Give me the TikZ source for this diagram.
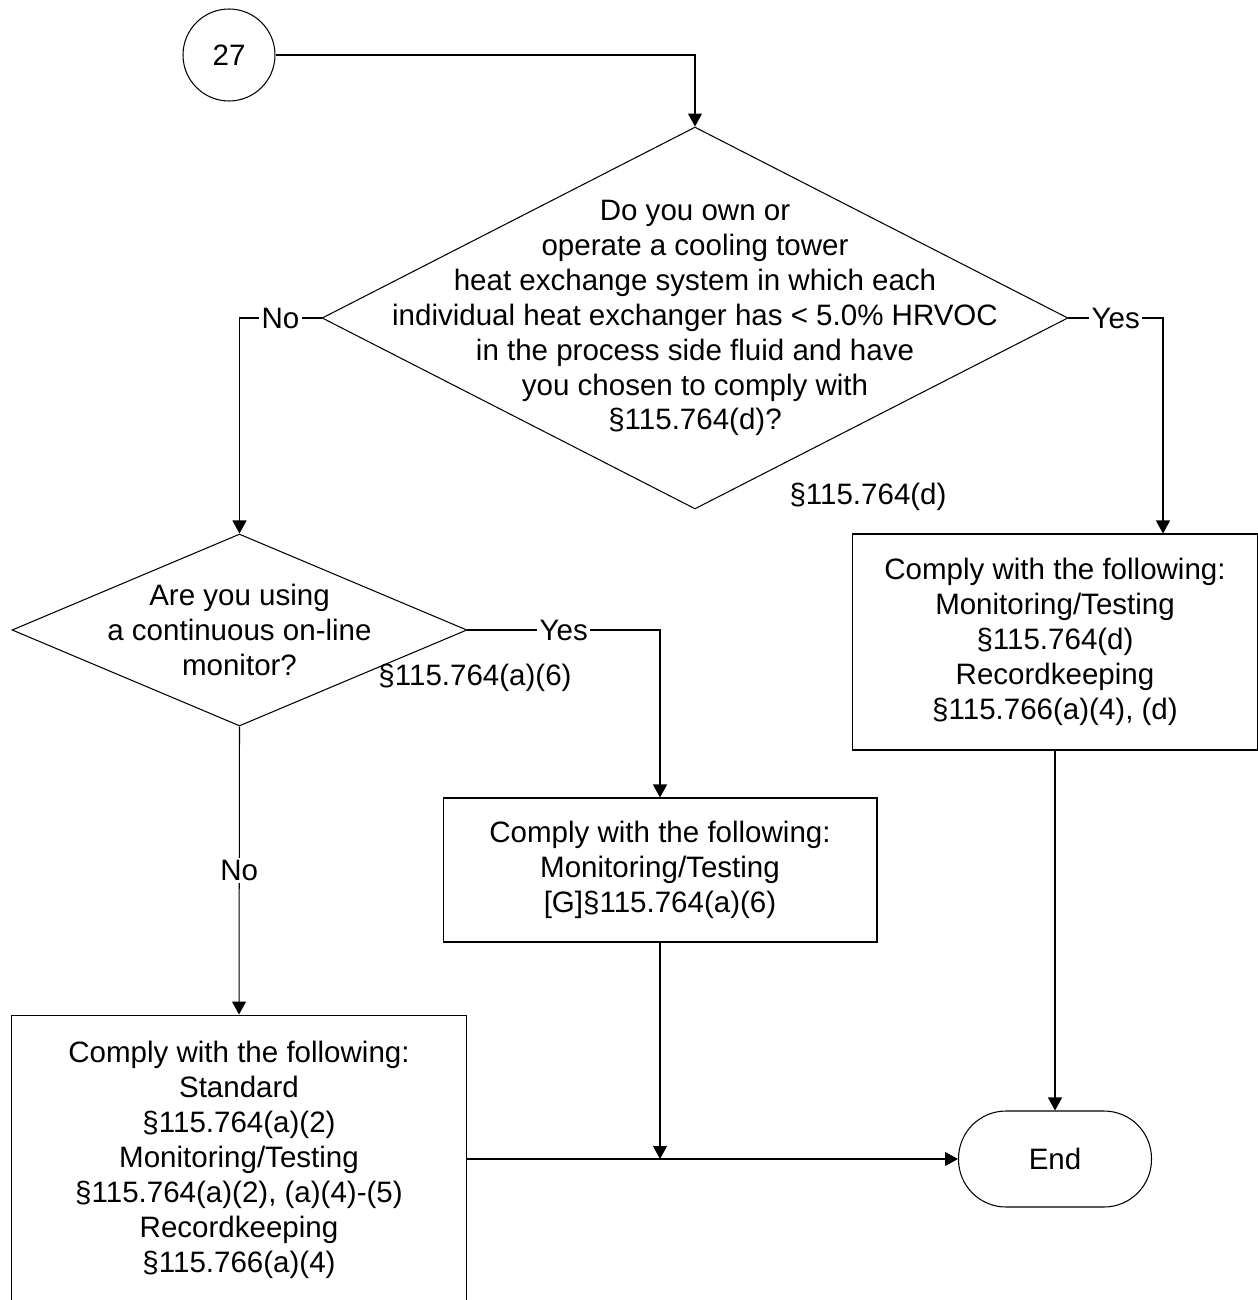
\documentclass[tikz,border=0pt]{standalone}
\usepackage{fontspec}
\setmainfont{Liberation Sans}
\usetikzlibrary{arrows.meta,shapes.geometric}

\begin{document}
\begin{tikzpicture}[x=0.02cm,y=-0.02cm,line width=0.6pt,
  font=\fontsize{16.8}{19.9}\selectfont,
  arr/.style={-{Triangle[width=0.28cm,length=0.26cm]}},
  decision/.style={draw,diamond,inner sep=0pt},
  txt/.style={align=center,inner sep=0pt},
  act/.style={draw,rectangle,align=center},
  lab/.style={fill=white,inner sep=1.5pt}]
  \useasboundingbox (0,0) rectangle (1257,1300);

  \node[draw,circle,minimum size=1.84cm] (start) at (229,55) {27};
  \node[decision,minimum width=14.92cm,minimum height=7.64cm] (own) at (695,318) {};
  \node[txt] (owntxt) at (own) {Do you own or\\operate a cooling tower\\heat exchange system in which each\\individual heat exchanger has < 5.0\% HRVOC\\in the process side fluid and have\\you chosen to comply with\\§115.764(d)?};
  \node[decision,minimum width=9.1cm,minimum height=3.84cm] (monitor) at (239.5,630) {};
  \node[txt] (monitortxt) at (monitor) {Are you using\\a continuous on-line\\monitor?};
  \node[act,minimum width=8.12cm,minimum height=4.32cm] (compd) at (1055,642) {Comply with the following:\\Monitoring/Testing\\§115.764(d)\\Recordkeeping\\§115.766(a)(4), (d)};
  \node[act,minimum width=8.68cm,minimum height=2.88cm] (compsix) at (660,870) {Comply with the following:\\Monitoring/Testing\\{[G]}§115.764(a)(6)};
  \node[act,minimum width=9.12cm,minimum height=5.8cm] (comptwo) at (239,1160) {Comply with the following:\\Standard\\§115.764(a)(2)\\Monitoring/Testing\\§115.764(a)(2), (a)(4)-(5)\\Recordkeeping\\§115.766(a)(4)};
  \node[draw,rectangle,rounded corners=0.95cm,minimum width=3.86cm,minimum height=1.92cm] (end) at (1055,1159) {End};

  \node[txt] (refd) at (868,497) {§115.764(d)};
  \node[txt] (refsix) at (475,678) {§115.764(a)(6)};

  \draw[arr] (start.east) -| (own.north);
  \draw[arr] (own.west) -| node[lab,pos=0.25] {No} (monitor.north);
  \draw[arr] (own.east) -| node[lab,pos=0.25] {Yes} ([xshift=2.16cm]compd.north);
  \draw[arr] (monitor.east) -| node[lab,pos=0.25] {Yes} (compsix.north);
  \draw[arr] (monitor.south) -- node[lab] {No} (comptwo.north);
  \draw[arr] (comptwo.east |- end.west) -- (end.west);
  \draw[arr] (compsix.south) -- (compsix.south |- end.west);
  \draw[arr] (compd.south) -- (end.north);
\end{tikzpicture}
\end{document}
